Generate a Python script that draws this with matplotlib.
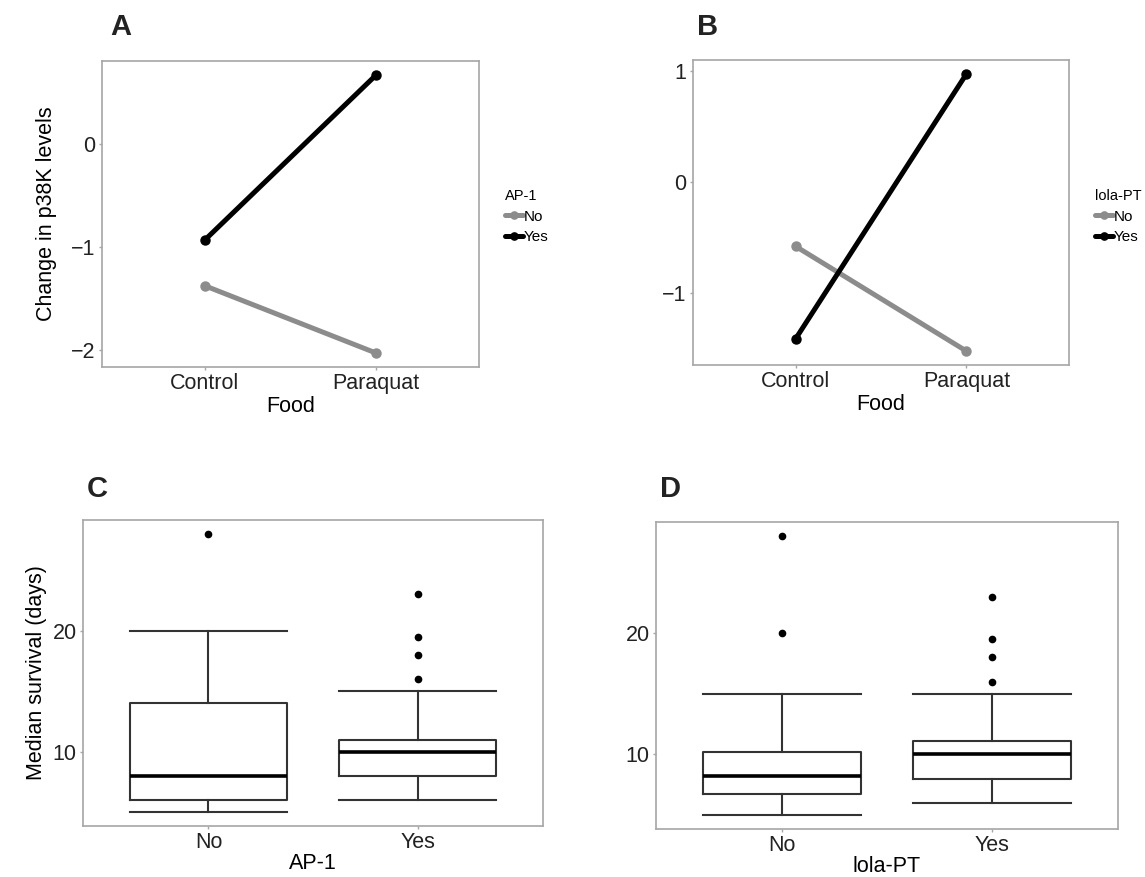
import matplotlib
matplotlib.use("Agg")
import matplotlib.pyplot as plt

plt.rcParams['font.family'] = ['Liberation Sans', 'DejaVu Sans']

# Panels A/B: change in p38K levels
food = ['Control', 'Paraquat']
ap1_no = [-1.375, -2.03]
ap1_yes = [-0.93, 0.676]
lola_no = [-0.576, -1.52]
lola_yes = [-1.41, 0.976]

# Panels C/D: median survival box stats (whislo, q1, med, q3, whishi)
groups = ['No', 'Yes']
ap1_stats = [[5, 6, 8, 14, 20], [6, 8, 10, 11, 15]]
ap1_fliers = [[28], [23, 19.5, 18, 16]]
lola_stats = [[5, 6.75, 8.2, 10.2, 15], [6, 8, 10, 11.1, 15]]
lola_fliers = [[28, 20], [23, 19.5, 18, 16]]

GREY = '#8c8c8c'
FRAME = '#a6a6a6'
FS = 15.5
W, H = 1145, 877

fig = plt.figure(figsize=(W / 100, H / 100), dpi=100)


def box(l, t, r, b):
    return fig.add_axes([l / W, 1 - b / H, (r - l) / W, (b - t) / H])


def style(ax):
    for s in ax.spines.values():
        s.set_color(FRAME)
        s.set_linewidth(1.2)
    ax.tick_params(colors=FRAME, labelcolor='#222222', labelsize=FS,
                   length=2.5, width=1, pad=2)


def line_panel(ax, no, yes, title):
    x = [1, 2]
    ax.plot(x, no, color=GREY, lw=3.6, marker='o', ms=6.5, label='No',
            solid_capstyle='round')
    ax.plot(x, yes, color='black', lw=3.6, marker='o', ms=6.5, label='Yes',
            solid_capstyle='round')
    ax.set_xlim(0.4, 2.6)
    lo = min(no + yes)
    hi = max(no + yes)
    pad = (hi - lo) * 0.05
    ax.set_ylim(lo - pad, hi + pad)
    ax.set_xticks(x)
    ax.set_xticklabels(food)
    ax.set_xlabel('Food', fontsize=FS, labelpad=1)
    style(ax)
    pos = ax.get_position()
    ax.legend(title=title, loc='upper left', frameon=False,
              bbox_to_anchor=(pos.x1 + 0.016, 1 - 181 / H),
              bbox_transform=fig.transFigure, fontsize=11, title_fontsize=10.5,
              handlelength=1.2, handletextpad=0.05, labelspacing=0.45,
              borderpad=0, alignment='left', markerscale=0.8)


def box_panel(ax, stats, fliers, xlabel):
    bs = []
    for g, s, f in zip(groups, stats, fliers):
        bs.append(dict(label=g, whislo=s[0], q1=s[1], med=s[2], q3=s[3],
                       whishi=s[4], fliers=f))
    ax.bxp(bs, positions=[1, 2], widths=0.75, capwidths=0.75,
           boxprops=dict(color='#333333', lw=1.5),
           whiskerprops=dict(color='#333333', lw=1.5),
           capprops=dict(color='#333333', lw=1.5),
           medianprops=dict(color='black', lw=2.6),
           flierprops=dict(marker='o', markerfacecolor='black',
                           markeredgecolor='black', markersize=4.5))
    ax.set_xlim(0.4, 2.6)
    vals = [v for s in stats for v in s] + [v for f in fliers for v in f]
    pad = (max(vals) - min(vals)) * 0.05
    ax.set_ylim(min(vals) - pad, max(vals) + pad)
    ax.set_yticks([10, 20])
    ax.set_xlabel(xlabel, fontsize=FS, labelpad=0)
    style(ax)


axA = box(102, 61, 479, 367)
line_panel(axA, ap1_no, ap1_yes, 'AP-1')
axA.set_yticks([-2, -1, 0])
axA.set_ylabel('Change in p38K levels', fontsize=FS, labelpad=10)

axB = box(693, 60, 1069, 365)
line_panel(axB, lola_no, lola_yes, 'lola-PT')
axB.set_yticks([-1, 0, 1])

axC = box(83, 520, 543, 826)
box_panel(axC, ap1_stats, ap1_fliers, 'AP-1')
axC.set_ylabel('Median survival (days)', fontsize=FS, labelpad=4)

axD = box(656, 522, 1118, 829)
box_panel(axD, lola_stats, lola_fliers, 'lola-PT')

for lab, x, y in [('A', 110, 35), ('B', 697, 35), ('C', 87, 497), ('D', 660, 497)]:
    fig.text(x / W, 1 - y / H, lab, fontsize=21, fontweight='bold',
             color='#222222', va='baseline', ha='left')

fig.savefig('out.png', dpi=100)
